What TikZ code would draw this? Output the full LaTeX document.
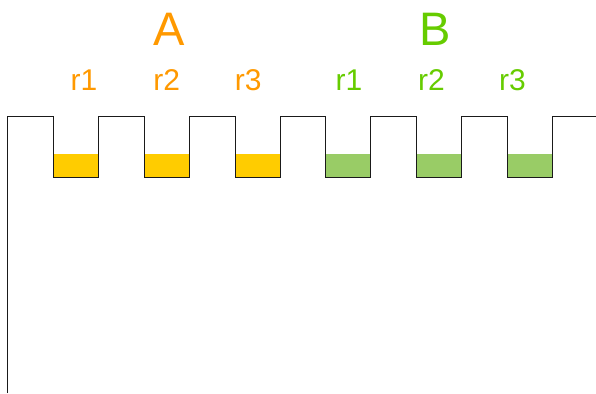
\documentclass[tikz,border=0pt]{standalone}
\usepackage{fontspec}
\setmainfont{Liberation Sans}
\definecolor{aorange}{HTML}{FF9900}
\definecolor{bgreen}{HTML}{66CC00}
\definecolor{ayellow}{HTML}{FFCC00}
\definecolor{bfill}{HTML}{99CC66}
\definecolor{wallline}{HTML}{1A1A1A}
\tikzset{
  biglabel/.style={anchor=base, inner sep=0pt, font=\fontsize{47}{47}\selectfont},
  reglabel/.style={anchor=base, inner sep=0pt, font=\fontsize{30}{30}\selectfont},
  wallpath/.style={draw=wallline, line width=1pt},
}
\begin{document}
\begin{tikzpicture}[x=1pt,y=-1pt]
\useasboundingbox (0,0) rectangle (596,393);
% fills
\foreach \l/\c in {53/ayellow,144/ayellow,235/ayellow,325/bfill,416/bfill,507/bfill}{
  \fill[\c] (\l,154) rectangle (\l+45,177);
}
% profile
\draw[wallpath] (7,393) -- (7,116)
  -- (53,116) -- (53,177) -- (98,177) -- (98,116)
  -- (144,116) -- (144,177) -- (189,177) -- (189,116)
  -- (235,116) -- (235,177) -- (280,177) -- (280,116)
  -- (325,116) -- (325,177) -- (370,177) -- (370,116)
  -- (416,116) -- (416,177) -- (461,177) -- (461,116)
  -- (507,116) -- (507,177) -- (552,177) -- (552,116)
  -- (596,116);
% labels
\node[biglabel, text=aorange] (A) at (169.5,45.7) {A};
\node[biglabel, text=bgreen] (B) at (435,45.7) {B};
\node[reglabel, text=aorange] (ar1) at (84,90.7) {r1};
\node[reglabel, text=aorange] (ar2) at (166.7,90.7) {r2};
\node[reglabel, text=aorange] (ar3) at (248.3,90.7) {r3};
\node[reglabel, text=bgreen] (br1) at (349,90.7) {r1};
\node[reglabel, text=bgreen] (br2) at (431.5,90.7) {r2};
\node[reglabel, text=bgreen] (br3) at (512.5,90.7) {r3};
\end{tikzpicture}
\end{document}
